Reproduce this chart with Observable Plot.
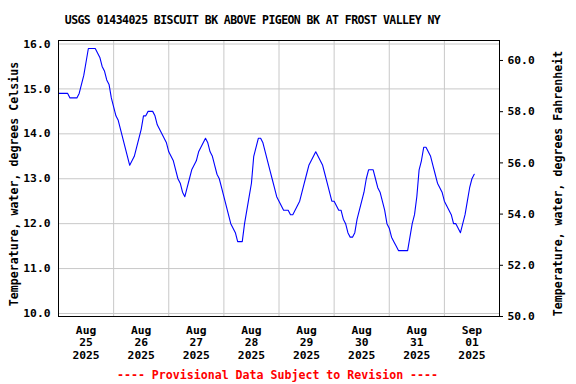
<!DOCTYPE html>
<html><head><meta charset="utf-8">
<script src="https://cdn.jsdelivr.net/npm/d3@7"></script>
<script src="https://cdn.jsdelivr.net/npm/@observablehq/plot@0.6"></script>
<style>
body{margin:0;background:#fff;width:576px;height:384px;overflow:hidden;font-family:"DejaVu Sans Mono",monospace;font-weight:bold}
#title{width:505px;height:30px;box-sizing:border-box;padding-top:10px;line-height:20px;text-align:center;font-size:11.5px;letter-spacing:-0.56px;color:#000;white-space:nowrap}
#caption{width:555px;height:18px;line-height:18px;text-align:center;font-size:11.6px;color:#ff0000;white-space:nowrap}
#chart svg{display:block}
</style></head>
<body>
<div id="title"></div>
<div id="chart"></div>
<div id="caption"></div>
<script>
const titleText = "USGS 01434025 BISCUIT BK ABOVE PIGEON BK AT FROST VALLEY NY";
const captionText = "---- Provisional Data Subject to Revision ----";
const yLabelLeft = "Temperature, water, degrees Celsius";
const yLabelRight = "Temperature, water, degrees Fahrenheit";

// hourly readings starting 2025-08-25 00:00
const startTime = "2025-08-25T00:00:00Z";
const tempC = [
  14.9,14.9,14.9,14.9,14.9,14.8,14.8,14.8,14.8,14.9,15.1,15.3,15.6,15.9,15.9,15.9,15.9,15.8,15.7,15.5,15.4,15.2,15.1,14.8,
  14.6,14.4,14.3,14.1,13.9,13.7,13.5,13.3,13.4,13.5,13.7,13.9,14.1,14.4,14.4,14.5,14.5,14.5,14.4,14.2,14.1,14.0,13.9,13.8,
  13.6,13.5,13.4,13.2,13.0,12.9,12.7,12.6,12.8,13.0,13.2,13.3,13.4,13.6,13.7,13.8,13.9,13.8,13.6,13.5,13.3,13.1,13.0,12.8,
  12.6,12.4,12.2,12.0,11.9,11.8,11.6,11.6,11.6,12.0,12.3,12.6,12.9,13.5,13.7,13.9,13.9,13.8,13.6,13.4,13.2,13.0,12.8,12.6,
  12.5,12.4,12.3,12.3,12.3,12.2,12.2,12.3,12.4,12.5,12.7,12.9,13.1,13.3,13.4,13.5,13.6,13.5,13.4,13.3,13.1,12.9,12.7,12.5,
  12.5,12.4,12.3,12.3,12.1,12.0,11.8,11.7,11.7,11.8,12.1,12.3,12.5,12.7,13.0,13.2,13.2,13.2,13.0,12.8,12.7,12.5,12.3,12.0,
  11.9,11.7,11.6,11.5,11.4,11.4,11.4,11.4,11.4,11.7,12.0,12.2,12.6,13.2,13.4,13.7,13.7,13.6,13.5,13.3,13.1,12.9,12.8,12.7,
  12.5,12.4,12.3,12.2,12.0,12.0,11.9,11.8,12.0,12.2,12.5,12.8,13.0,13.1
];

const xDomain = ["2025-08-25T00:00:00Z", "2025-09-02T00:00:00Z"];
const dayLines = ["2025-08-26","2025-08-27","2025-08-28","2025-08-29","2025-08-30","2025-08-31","2025-09-01"];
const tickDays = ["2025-08-25","2025-08-26","2025-08-27","2025-08-28","2025-08-29","2025-08-30","2025-08-31","2025-09-01"];
const tickMonth = ["Aug","Aug","Aug","Aug","Aug","Aug","Aug","Sep"];
const tickDay = ["25","26","27","28","29","30","31","01"];
const tickYear = ["2025","2025","2025","2025","2025","2025","2025","2025"];
const cTicks = [10,11,12,13,14,15,16];
const fTicks = [50,52,54,56,58,60];
const cDomain = [9.933, 16.078];
const fDomain = [50, 60.78];

document.getElementById("title").textContent = titleText;
document.getElementById("caption").textContent = captionText;

const t0 = new Date(startTime).getTime();
const rows = tempC.map((c, i) => ({t: new Date(t0 + i * 3600e3), c}));
const noon = d => new Date(d + "T12:00:00Z");
const midnight = d => new Date(d + "T00:00:00Z");
const noonTicks = tickDays.map(noon);
const f2c = f => cDomain[0] + (f - fDomain[0]) / (fDomain[1] - fDomain[0]) * (cDomain[1] - cDomain[0]);
const c2f = c => fDomain[0] + (c - cDomain[0]) / (cDomain[1] - cDomain[0]) * (fDomain[1] - fDomain[0]);

const chart = Plot.plot({
  width: 576, height: 336,
  marginTop: 10, marginBottom: 50, marginLeft: 58, marginRight: 77,
  style: {fontFamily: "DejaVu Sans Mono, monospace", fontWeight: "bold", fontSize: "11.3px", color: "#000", background: "#fff"},
  x: {type: "utc", domain: xDomain.map(d => new Date(d))},
  y: {domain: cDomain},
  marks: [
    Plot.gridY({ticks: cTicks, stroke: "#c8c8c8", strokeOpacity: 1}),
    Plot.gridX({ticks: dayLines.map(midnight), stroke: "#c8c8c8", strokeOpacity: 1}),
    Plot.line(rows, {x: "t", y: "c", stroke: "#0000ff", strokeWidth: 1.1}),
    Plot.frame({stroke: "#000"}),
    Plot.axisY({anchor: "left", ticks: cTicks, tickFormat: d => d.toFixed(1), tickSize: 0, tickPadding: 8, label: null, fontSize: "11.3px"}),
    Plot.axisY({anchor: "right", ticks: fTicks.map(f2c), tickFormat: d => c2f(d).toFixed(1), tickSize: 3, tickPadding: 5, label: null, fontSize: "11.3px"}),
    Plot.axisX({ticks: noonTicks, tickSize: 0, tickPadding: 8, lineHeight: 1.13, label: null,
      tickFormat: d => { const i = noonTicks.findIndex(n => +n === +d); return `${tickMonth[i]}\n${tickDay[i]}\n${tickYear[i]}`; }}),
    Plot.text([yLabelLeft], {text: d => d, frameAnchor: "left", textAnchor: "middle", lineAnchor: "middle", rotate: -90, dx: -44.5, dy: 5.5, fontSize: "11.6px", fill: "#000"}),
    Plot.text([yLabelRight], {text: d => d, frameAnchor: "right", textAnchor: "middle", lineAnchor: "middle", rotate: -90, dx: 59, dy: 5, fontSize: "11.6px", fill: "#000"})
  ]
});
document.getElementById("chart").appendChild(chart);
</script>
</body></html>
